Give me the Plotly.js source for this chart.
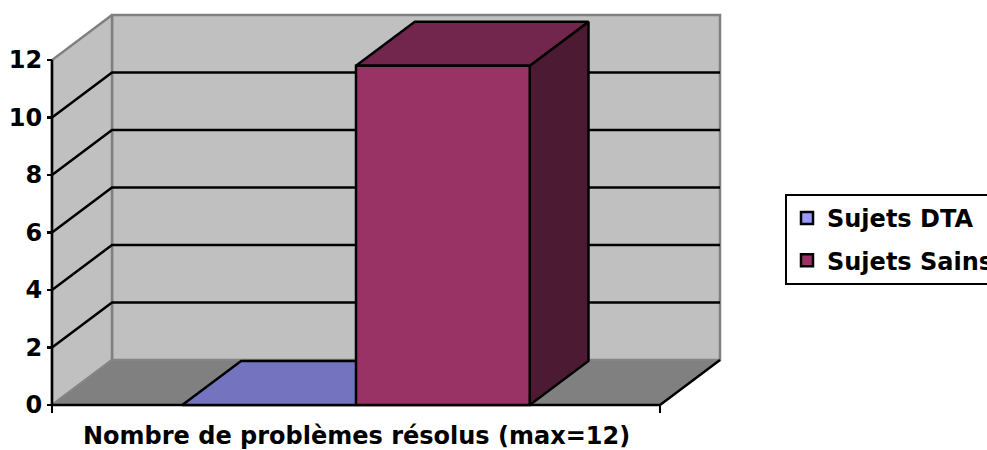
<!DOCTYPE html>
<html>
<head>
<meta charset="utf-8">
<script src="https://cdn.plot.ly/plotly-3.0.1.min.js"></script>
<style>html,body{margin:0;padding:0;background:#fff;}#chart{width:987px;height:450px;}</style>
</head>
<body>
<div id="chart"></div>
<script>
// ---- data ----
const categories = ['Nombre de problèmes résolus (max=12)'];
const seriesNames = ['Sujets DTA', 'Sujets Sains'];
const valuesDTA = [0];
const valuesSains = [11.8];
const yTicks = [0, 2, 4, 6, 8, 10, 12];

// ---- styles ----
const FONT = {family: 'DejaVu Sans', size: 24, color: '#000', weight: 'bold'};
const frontColors = ['#9999ff', '#993366'];
const topColors = ['#7373bf', '#73264d'];
const sideColors = ['#5c5c99', '#4d1a33'];

// oblique projection: x (category units), v (value units), d (depth 0..1)
const DX = 60 / 608, DY = 45 / 28.75;
const yMax = yTicks[yTicks.length - 1];
function P(x, v, d) { return [x + d * DX, v + d * DY]; }
function poly(pts, fill, lineColor, lineWidth, closed) {
  const xs = pts.map(p => p[0]), ys = pts.map(p => p[1]);
  if (closed) { xs.push(xs[0]); ys.push(ys[0]); }
  const t = {x: xs, y: ys, mode: 'lines', type: 'scatter', hoverinfo: 'skip', showlegend: false,
    line: {color: lineColor || 'rgba(0,0,0,0)', width: lineWidth || 0}};
  if (fill) { t.fill = 'toself'; t.fillcolor = fill; }
  return t;
}

const traces = [];
// walls and floor
traces.push(poly([P(0,0,1), P(1,0,1), P(1,yMax,1), P(0,yMax,1)], '#c0c0c0', '#808080', 2.5, true));
traces.push(poly([P(0,0,0), P(0,0,1), P(0,yMax,1), P(0,yMax,0)], '#c0c0c0', '#808080', 2.5, true));
traces.push(poly([P(0,0,0), P(1,0,0), P(1,0,1), P(0,0,1)], '#808080', '#8a8a8a', 1, true));
// gridlines
yTicks.filter(v => v > 0 && v < yMax).forEach(v => {
  traces.push(poly([P(0,v,0), P(0,v,1), P(1,v,1)], null, '#000', 2.5, false));
});
// floor front / right edges and value axis line
traces.push(poly([P(1,0,1), P(1,0,0), P(0,0,0), P(0,yMax,0)], null, '#000', 2.5, false));

// bars
const allValues = [valuesDTA, valuesSains];
const nSeries = allValues.length;
const gapWidth = 1.5;
const barW = 1 / (nSeries + gapWidth);
const depthEnd = 0.98;
categories.forEach((c, ci) => {
  allValues.forEach((vals, si) => {
    const v = vals[ci];
    const a = ci + gapWidth * barW / 2 + si * barW, b = a + barW;
    traces.push(poly([P(b,0,0), P(b,0,depthEnd), P(b,v,depthEnd), P(b,v,0)], sideColors[si], '#000', 2.5, true));
    traces.push(poly([P(a,v,0), P(b,v,0), P(b,v,depthEnd), P(a,v,depthEnd)], topColors[si], '#000', 2.5, true));
    if (v > 0) traces.push(poly([P(a,0,0), P(b,0,0), P(b,v,0), P(a,v,0)], frontColors[si], '#000', 2.5, true));
  });
});

// legend entries
seriesNames.forEach((n, si) => {
  traces.push({type: 'bar', x: [null], y: [null], name: n, legendgroup: 'g' + si, showlegend: true,
    marker: {color: frontColors[si], line: {color: '#000', width: 2.5}}});
});

// pixel layout: plot area 40..730 x, 10..415 y ; category 0 -> 52px, 1 -> 660px ; value 0 -> 405px, 28.75 px/unit
const L = 40, R = 730, T = 10, B = 415;
const layout = {
  width: 987, height: 450,
  margin: {l: L, r: 987 - R, t: T, b: 450 - B, autoexpand: false},
  paper_bgcolor: '#fff', plot_bgcolor: 'rgba(0,0,0,0)',
  showlegend: true,
  font: FONT,
  xaxis: {type: 'linear', range: [(L - 52) / 608, (R - 52) / 608], showgrid: false, zeroline: false, showline: false,
    tickvals: [0, 1], ticks: 'outside', ticklen: 7, tickwidth: 2, tickcolor: '#000', showticklabels: false,
    anchor: 'free', position: (B - 405) / (B - T), fixedrange: true},
  yaxis: {type: 'linear', range: [(405 - B) / 28.75, (405 - T) / 28.75], showgrid: false, zeroline: false, showline: false,
    tickvals: yTicks, ticktext: yTicks.map(String), ticks: 'outside', ticklen: 5, tickwidth: 2.5, tickcolor: '#000',
    tickfont: FONT, anchor: 'free', position: (52 - L) / (R - L), fixedrange: true},
  legend: {x: (785 - L) / (R - L), xanchor: 'left', y: (B - 194) / (B - T), yanchor: 'top',
    bgcolor: '#fff', bordercolor: '#000', borderwidth: 2, font: FONT, tracegroupgap: 8, traceorder: 'grouped',
    itemwidth: 30},
  annotations: [{text: categories[0], xref: 'x', x: 0.5, yref: 'paper', y: (B - 436) / (B - T),
    xanchor: 'center', yanchor: 'middle', showarrow: false, font: FONT}]
};

Plotly.newPlot('chart', traces, layout, {staticPlot: true, displayModeBar: false});
</script>
</body>
</html>
